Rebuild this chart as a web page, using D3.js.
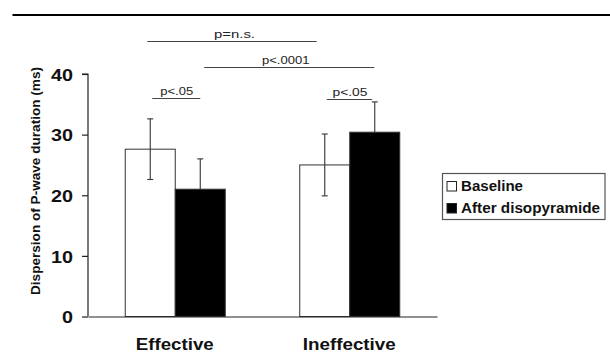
<!DOCTYPE html>
<html>
<head>
<meta charset="utf-8">
<script src="https://cdn.jsdelivr.net/npm/d3@7"></script>
<style>
  html, body { margin: 0; padding: 0; background: #fff; }
  svg { display: block; font-family: "Liberation Sans", Arial, sans-serif; }
</style>
</head>
<body>
<svg id="chart" width="610" height="361"></svg>
<script>
// ---- data ----
const categories = ["Effective", "Ineffective"];
const seriesNames = ["Baseline", "After disopyramide"];
const baselineValues = [27.6, 25.0];
const afterValues = [21.0, 30.4];
const baselineSD = [5.0, 5.1];
const afterSD = [5.0, 5.0];
const yTicks = [0, 10, 20, 30, 40];
const annotationLabels = ["p=n.s.", "p<.0001", "p<.05", "p<.05"];
const annotationLevels = [45.4, 41.1, 36.0, 35.9];           // y-value of bracket line
const annotationFrom = [["Effective", "Baseline"], ["Effective", "After disopyramide"], ["Effective", "Baseline"], ["Ineffective", "Baseline"]];
const annotationTo = [["Ineffective", "Baseline"], ["Ineffective", "After disopyramide"], ["Effective", "After disopyramide"], ["Ineffective", "After disopyramide"]];

// ---- layout ----
const svg = d3.select("#chart");
const plotLeft = 88, plotRight = 437, plotTop = 74, plotBottom = 316.5;

const y = d3.scaleLinear().domain([0, 40]).range([plotBottom, plotTop]);
const x0 = d3.scaleBand().domain(categories).range([plotLeft, plotRight]).paddingInner(0).paddingOuter(0);
const x1 = d3.scaleBand().domain(seriesNames).range([-50, 50]);
const fills = { "Baseline": "#ffffff", "After disopyramide": "#000000" };

const rows = [];
categories.forEach((c, i) => {
  rows.push({ cat: c, s: "Baseline", v: baselineValues[i], sd: baselineSD[i] });
  rows.push({ cat: c, s: "After disopyramide", v: afterValues[i], sd: afterSD[i] });
});
const barCenter = (c, s) => x0(c) + x0.bandwidth() / 2 + x1(s) + x1.bandwidth() / 2;

// top rule
svg.append("line").attr("x1", 12.5).attr("x2", 610).attr("y1", 15).attr("y2", 15)
  .attr("stroke", "#000").attr("stroke-width", 2.2);

// bars
svg.append("g").selectAll("rect").data(rows).join("rect")
  .attr("x", d => x0(d.cat) + x0.bandwidth() / 2 + x1(d.s))
  .attr("y", d => y(d.v))
  .attr("width", x1.bandwidth())
  .attr("height", d => y(0) - y(d.v))
  .attr("fill", d => fills[d.s])
  .attr("stroke", "#333")
  .attr("stroke-width", 1);

// error bars
const eg = svg.append("g").attr("stroke", "#333").attr("stroke-width", 1.1);
rows.forEach(d => {
  const cx = barCenter(d.cat, d.s);
  const lo = d.s === "Baseline" ? d.v - d.sd : d.v;
  eg.append("line").attr("x1", cx).attr("x2", cx).attr("y1", y(d.v + d.sd)).attr("y2", y(lo));
  eg.append("line").attr("x1", cx - 3).attr("x2", cx + 3).attr("y1", y(d.v + d.sd)).attr("y2", y(d.v + d.sd));
  if (d.s === "Baseline")
    eg.append("line").attr("x1", cx - 3).attr("x2", cx + 3).attr("y1", y(lo)).attr("y2", y(lo));
});

// y axis
const yAxis = d3.axisLeft(y).tickValues(yTicks).tickSize(6).tickFormat(d3.format("d"));
const ya = svg.append("g").attr("transform", `translate(${plotLeft},0)`).call(yAxis);
ya.select(".domain").attr("d", `M-6,${plotTop}H0V${plotBottom}`).attr("stroke", "#222").attr("stroke-width", 1.2);
ya.selectAll(".tick line").attr("stroke", "#222").attr("stroke-width", 1.2);
ya.selectAll(".tick text")
  .attr("x", -15).attr("dy", "0.36em")
  .attr("font-size", 17).attr("font-weight", "bold").attr("fill", "#111")
  .attr("font-family", "Liberation Sans, Arial, sans-serif")
  .attr("textLength", d => String(d).length * 11)
  .attr("lengthAdjust", "spacingAndGlyphs");

// x axis line
const xAxis = d3.axisBottom(x0).tickSize(0).tickFormat("");
const xa = svg.append("g").attr("transform", `translate(0,${plotBottom})`).call(xAxis);
xa.select(".domain").attr("stroke", "#222").attr("stroke-width", 1.2);

// x labels
const xLabelWidths = { "Effective": 78, "Ineffective": 93 };
svg.append("g").selectAll("text").data(categories).join("text")
  .attr("x", d => x0(d) + x0.bandwidth() / 2 - 0.5)
  .attr("y", 350)
  .attr("text-anchor", "middle")
  .attr("font-size", 16.5).attr("font-weight", "bold").attr("fill", "#111")
  .attr("textLength", d => xLabelWidths[d])
  .attr("lengthAdjust", "spacingAndGlyphs")
  .text(d => d);

// y title
svg.append("text")
  .attr("transform", `translate(39.5,181) rotate(-90)`)
  .attr("text-anchor", "middle")
  .attr("font-size", 13.5).attr("font-weight", "bold").attr("fill", "#111")
  .attr("textLength", 228).attr("lengthAdjust", "spacingAndGlyphs")
  .text("Dispersion of P-wave duration (ms)");

// annotations
const annAdjust = [[-3, -8], [4, -0.5], [2, 0], [2, -2.5]];
const annTextW = [41, 47.5, 33, 35];
const ag = svg.append("g");
annotationLabels.forEach((lab, i) => {
  const xa1 = barCenter(annotationFrom[i][0], annotationFrom[i][1]) + annAdjust[i][0];
  const xa2 = barCenter(annotationTo[i][0], annotationTo[i][1]) + annAdjust[i][1];
  const ly = Math.round(y(annotationLevels[i])) + 0.5;
  ag.append("line").attr("x1", xa1).attr("x2", xa2).attr("y1", ly).attr("y2", ly)
    .attr("stroke", "#444").attr("stroke-width", 1);
  ag.append("text")
    .attr("x", (xa1 + xa2) / 2 + (i === 0 ? 2.5 : i === 1 ? -3.5 : 0.5))
    .attr("y", ly - 3.2)
    .attr("text-anchor", "middle")
    .attr("font-size", 10.5).attr("fill", "#222")
    .attr("textLength", annTextW[i]).attr("lengthAdjust", "spacingAndGlyphs")
    .text(lab);
});

// legend
const lg = svg.append("g");
lg.append("rect").attr("x", 442.5).attr("y", 173.5).attr("width", 162.5).attr("height", 46)
  .attr("fill", "#fff").attr("stroke", "#555").attr("stroke-width", 1.2);
const legendTextW = [62, 139];
seriesNames.forEach((s, i) => {
  const yy = 181.5 + i * 22;
  lg.append("rect").attr("x", 447).attr("y", yy).attr("width", 9.5).attr("height", 9.5)
    .attr("fill", fills[s]).attr("stroke", "#222").attr("stroke-width", 1);
  lg.append("text").attr("x", 461).attr("y", yy + 9.3)
    .attr("font-size", 14).attr("font-weight", "bold").attr("fill", "#111")
    .attr("textLength", legendTextW[i]).attr("lengthAdjust", "spacingAndGlyphs")
    .text(s);
});
</script>
</body>
</html>
